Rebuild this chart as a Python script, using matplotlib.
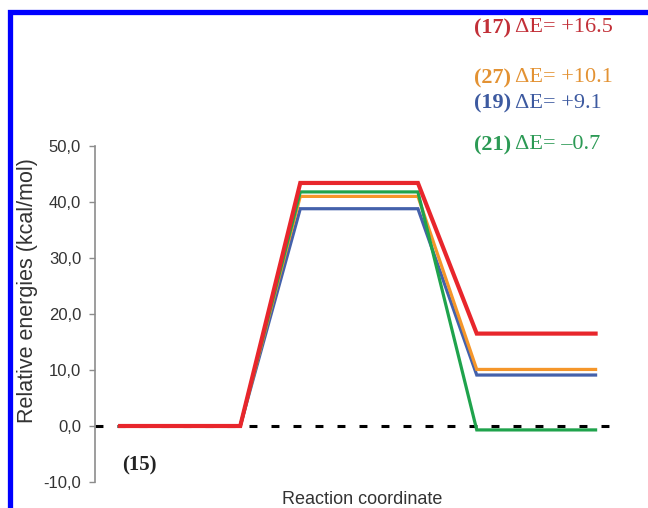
import matplotlib
matplotlib.use("Agg")
import matplotlib.pyplot as plt
from matplotlib.patches import Rectangle

# reaction coordinate of the level ends (reactant, TS, product)
x_pts = [0, 1, 1.5, 2.48, 2.97, 3.96]

# relative energies (kcal/mol)
ts = {"19": 38.8, "27": 41.0, "21": 41.8, "17": 43.4}
prod = {"19": 9.1, "27": 10.1, "21": -0.7, "17": 16.5}
order = ["19", "27", "21", "17"]
colors = {"17": "#e8262c", "27": "#f5962a", "19": "#4461ab", "21": "#1fa34c"}
txt_colors = {"17": "#c23038", "27": "#e39233", "19": "#3d5aa0", "21": "#2c9a55"}
labels = [("17", "+16.5"), ("27", "+10.1"), ("19", "+9.1"), ("21", "\u20130.7")]
yticks = [-10, 0, 10, 20, 30, 40, 50]

fig = plt.figure(figsize=(6.48, 5.08), dpi=100)
ax = fig.add_axes([95 / 648, 26 / 508, 545 / 648, 336 / 508])

# reference level
ax.plot([-0.21, 4.1], [0, 0], color="black", lw=2.2, dashes=(2.6, 4.6), zorder=1)

for k in order:
    y = [0, 0, ts[k], ts[k], prod[k], prod[k]]
    lw = 3.0 if k == "17" else 2.3
    ax.plot(x_pts, y, color=colors[k], lw=lw, solid_joinstyle="miter", zorder=2)

ax.set_xlim(-0.21, 4.33)
ax.set_ylim(-10, 50)
ax.set_yticks(yticks)
ax.set_yticklabels([f"{v:.1f}".replace(".", ",") for v in yticks],
                   fontsize=12, color="#333333", family="Liberation Sans")
ax.tick_params(axis="y", direction="out", length=4, width=1, color="#8c8c8c", pad=6)
ax.set_xticks([])
for s in ["top", "right", "bottom"]:
    ax.spines[s].set_visible(False)
ax.spines["left"].set_color("#8c8c8c")
ax.spines["left"].set_linewidth(1.2)

ax.set_ylabel("Relative energies (kcal/mol)", fontsize=15.5, color="#333333",
              family="Liberation Sans")
ax.yaxis.set_label_coords(-0.104, 0.57)
fig.text(362 / 648, 1 - 499 / 508, "Reaction coordinate", ha="center", va="center",
         fontsize=13, color="#333333", family="Liberation Sans")

ax.text(0.16, -7.0, "(15)", fontsize=15, fontweight="bold", family="Liberation Serif",
        color="#222222", ha="center", va="center")

# energy annotations
ypix = [28, 78, 103, 145]
for (k, val), yp in zip(labels, ypix):
    t = fig.text(474 / 648, 1 - yp / 508, f"({k})", fontsize=16, fontweight="bold",
                 family="Liberation Serif", color=txt_colors[k], va="center")
    fig.canvas.draw()
    bb = t.get_window_extent()
    fig.text((bb.x1 + 4) / 648, 1 - yp / 508, f"\u0394E= {val}", fontsize=16,
             family="Liberation Serif", color=txt_colors[k], va="center")

# blue frame
fig.patches.append(Rectangle((10 / 648, -0.1), 1.2, 1 - 12 / 508 + 0.1,
                             transform=fig.transFigure, fill=False,
                             edgecolor="#0000ff", lw=3.8, zorder=0))

fig.savefig("out.png", dpi=100)
